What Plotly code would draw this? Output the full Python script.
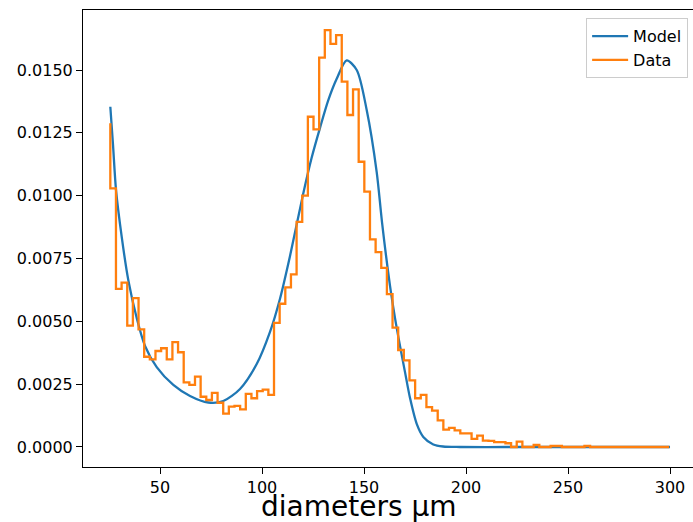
import numpy as np
import plotly.graph_objects as go

# ---- Data ----
bin_start = 25.64
bin_width = 2.767
data_vals = [
    0.01288, 0.01029, 0.00629, 0.00654, 0.00483, 0.00592, 0.00468, 0.00359, 0.00349, 0.00382,
    0.00393, 0.00349, 0.00417, 0.00377, 0.00257, 0.00247, 0.00280, 0.00200, 0.00187, 0.00215,
    0.00176, 0.00133, 0.00161, 0.00164, 0.00150, 0.00211, 0.00194, 0.00222, 0.00228, 0.00207,
    0.00494, 0.00570, 0.00635, 0.00687, 0.00896, 0.01000, 0.01314, 0.01264, 0.01549, 0.01659,
    0.01604, 0.01639, 0.01454, 0.01321, 0.01423, 0.01135, 0.01016, 0.00826, 0.00775, 0.00713,
    0.00608, 0.00475, 0.00386, 0.00345, 0.00265, 0.00194, 0.00207, 0.00159, 0.00145, 0.00106,
    0.00069, 0.00076, 0.00066, 0.00054, 0.00054, 0.00032, 0.00045, 0.00025, 0.00024, 0.00019,
    0.00019, 0.00015, 0.00000, 0.00021, 0.00000, 0.00000, 0.00008, 0.00000, 0.00000, 0.00004,
    0.00004, 0.00000, 0.00000, 0.00000, 0.00000, 0.00004, 0.00000, 0.00000, 0.00000, 0.00000,
    0.00000, 0.00000, 0.00000, 0.00000, 0.00000, 0.00000, 0.00000, 0.00000, 0.00000, 0.00000,
]
data_x = bin_start + bin_width * np.arange(len(data_vals))

model_x = [25.64, 26.96, 28.43, 31.23, 34.46, 38.58, 42.65, 48.38, 56.52, 64.71,
           73.68, 81.03, 89.22, 97.40, 103.92, 108.82, 113.73, 120.25, 124.30, 128.43,
           132.50, 136.62, 141.52, 146.42, 151.32, 156.22, 158.82, 162.75, 165.20, 167.65,
           170.10, 172.55, 175.84, 179.07, 183.97, 188.73, 197.06, 220.0, 260.0, 300.0]
model_y = [0.01354, 0.01202, 0.01023, 0.00836, 0.00664, 0.00513, 0.00402, 0.00318, 0.00247, 0.00203,
           0.00177, 0.00183, 0.00231, 0.00330, 0.00458, 0.00590, 0.00760, 0.01010, 0.01150, 0.01270,
           0.01380, 0.01465, 0.01538, 0.01500, 0.01341, 0.01094, 0.00895, 0.00641, 0.00513, 0.00402,
           0.00298, 0.00195, 0.00092, 0.00040, 0.00010, 0.00002, 0.0, 0.0, 0.0, 0.0]

x_ticks = [50, 100, 150, 200, 250, 300]
y_ticks = [0.0, 0.0025, 0.005, 0.0075, 0.01, 0.0125, 0.015]
y_ticktext = ["0.0000", "0.0025", "0.0050", "0.0075", "0.0100", "0.0125", "0.0150"]

FONT = "DejaVu Sans"

fig = go.Figure()
fig.add_trace(go.Scatter(x=model_x, y=model_y, mode="lines", name="Model",
                         line=dict(color="#1f77b4", width=2.3, shape="spline", smoothing=0.8)))
fig.add_trace(go.Scatter(x=data_x, y=data_vals, mode="lines", name="Data",
                         line=dict(color="#ff7f0e", width=2.3, shape="vh")))

fig.update_layout(
    width=693, height=522,
    margin=dict(l=83, r=0, t=10, b=55),
    paper_bgcolor="white", plot_bgcolor="white",
    font=dict(family=FONT, size=16, color="black"),
    showlegend=True,
    legend=dict(x=0.992, y=0.982, xanchor="right", yanchor="top", itemwidth=36,
                bgcolor="rgba(255,255,255,0.8)", bordercolor="#cccccc", borderwidth=1,
                font=dict(family=FONT, size=16), tracegroupgap=0),
    xaxis=dict(range=[12.25, 311.27], tickvals=x_ticks, ticks="outside", ticklen=6,
               tickwidth=1.1, tickcolor="black", showline=True, linecolor="black",
               linewidth=1.1, mirror=True, showgrid=False, zeroline=False,
               tickfont=dict(family=FONT, size=16)),
    yaxis=dict(range=[-0.000796, 0.017388], tickvals=y_ticks, ticktext=y_ticktext,
               ticks="outside", ticklen=6, tickwidth=1.1, tickcolor="black",
               showline=True, linecolor="black", linewidth=1.1, mirror=False,
               showgrid=False, zeroline=False, tickfont=dict(family=FONT, size=16)),
    annotations=[dict(text="diameters μm", xref="paper", yref="paper",
                      x=0.4525, y=-0.087, xanchor="center", yanchor="middle",
                      showarrow=False, font=dict(family=FONT, size=28, color="black"))],
)

fig.write_html("out.html")
